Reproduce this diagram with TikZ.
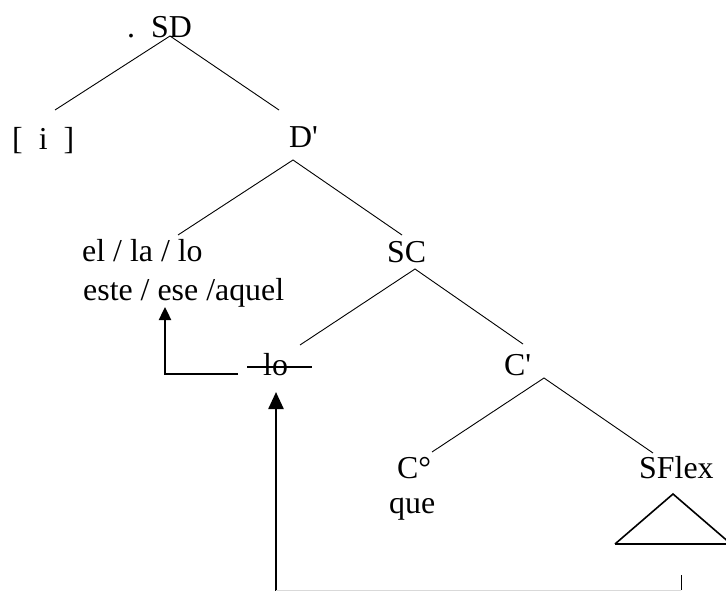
\documentclass[tikz,border=0pt]{standalone}
\usepackage{fontspec}
\setmainfont{Liberation Serif}[Ligatures=TeXOff]
\usetikzlibrary{arrows.meta}
\begin{document}
\begin{tikzpicture}[x=1bp,y=-1bp,
  txt/.style={inner sep=0pt, anchor=base west, font=\fontsize{32}{36}\selectfont},
  branch/.style={line width=0.9bp},
  move/.style={line width=2.4bp},
  smallhead/.style={-{Triangle[length=13bp,width=12bp]}},
  bighead/.style={-{Triangle[length=17bp,width=15bp]}}]
\useasboundingbox (0,0) rectangle (726,591);
% labels
\node[txt] (dot) at (127,38) {.};
\node[txt] (sd) at (151,38) {SD};
\node[txt] (spec) at (12,150) {[\ \ i\ \ ]};
\node[txt] (dbar) at (289,148) {D'};
\node[txt] (det) at (82,261) {el / la / lo};
\node[txt] (dem) at (83,300) {este / ese /aquel};
\node[txt] (sc) at (387,262) {SC};
\node[txt] (lo) at (263,375) {lo};
\node[txt] (cbar) at (504,375) {C'};
\node[txt] (c0) at (397,478) {C°};
\node[txt] (que) at (389,513) {que};
\node[txt] (sflex) at (639,478) {SFlex};
% branch points
\coordinate (sdB) at (170,36);
\coordinate (specT) at (55,110);
\coordinate (dbarT) at (279,110);
\coordinate (dbarB) at (293,160);
\coordinate (detT) at (178,235);
\coordinate (scT) at (402,235);
\coordinate (scB) at (415,269);
\coordinate (loT) at (300,345);
\coordinate (cbarT) at (523,344);
\coordinate (cbarB) at (544,378);
\coordinate (c0T) at (432,452);
\coordinate (sflexT) at (653,453);
\draw[branch] (specT) -- (sdB) -- (dbarT);
\draw[branch] (detT) -- (dbarB) -- (scT);
\draw[branch] (loT) -- (scB) -- (cbarT);
\draw[branch] (c0T) -- (cbarB) -- (sflexT);
% triangle under SFlex
\coordinate (triA) at (673,494);
\coordinate (triL) at (615,544);
\coordinate (triR) at (731,544);
\draw[line width=1.6bp] (triL) -- (triA) -- (triR) (triL) -- (triR);
% strike-through of lo
\coordinate (strL) at (247,367);
\coordinate (strR) at (312,367);
\draw[line width=1.6bp] (strL) -- (strR);
% movement arrows
\coordinate (m1s) at (238,374);
\coordinate (m1c) at (165,374);
\coordinate (m1e) at (165,307);
\draw[move, smallhead] (m1s) -- (m1c) -- (m1e);
\coordinate (m2s) at (276,592);
\coordinate (m2e) at (276,392);
\draw[move, bighead] (m2s) -- (m2e);
\coordinate (m3a) at (276,590);
\coordinate (m3b) at (681,590);
\coordinate (m3c) at (681,575);
\draw[gray!30, line width=1bp] (m3a) -- (m3b);
\draw[line width=1bp] (m3b) -- (m3c);
\end{tikzpicture}
\end{document}
